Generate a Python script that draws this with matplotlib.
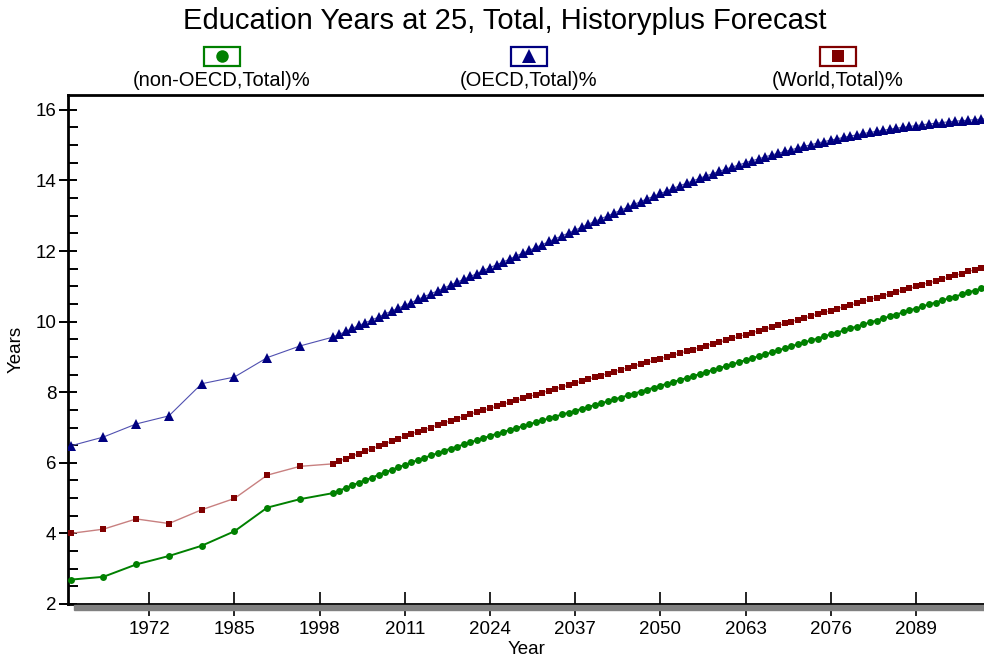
import numpy as np
import matplotlib
matplotlib.use("Agg")
import matplotlib.pyplot as plt
from matplotlib.patches import Rectangle

plt.rcParams['font.family'] = ['Liberation Sans', 'DejaVu Sans']

# history every 5 years, forecast every year
hist_years = [1960, 1965, 1970, 1975, 1980, 1985, 1990, 1995, 2000]
fc_years = list(range(2001, 2101))

oecd_hist = [6.48, 6.73, 7.10, 7.33, 8.24, 8.43, 8.98, 9.31, 9.56]
world_hist = [4.00, 4.12, 4.41, 4.28, 4.67, 4.99, 5.65, 5.90, 5.97]
nonoecd_hist = [2.69, 2.77, 3.12, 3.36, 3.65, 4.06, 4.73, 4.97, 5.14]

oecd_fc = [
    9.64, 9.72, 9.81, 9.89, 9.97, 10.05, 10.13, 10.22, 10.30, 10.38,
    10.46, 10.54, 10.63, 10.71, 10.79, 10.87, 10.95, 11.04, 11.12, 11.20,
    11.28, 11.36, 11.45, 11.53, 11.61, 11.69, 11.77, 11.86, 11.94, 12.02,
    12.10, 12.18, 12.27, 12.35, 12.43, 12.51, 12.59, 12.68, 12.76, 12.84,
    12.92, 13.00, 13.08, 13.16, 13.24, 13.32, 13.40, 13.48, 13.55, 13.63,
    13.70, 13.78, 13.85, 13.92, 13.99, 14.06, 14.13, 14.19, 14.26, 14.32,
    14.38, 14.44, 14.50, 14.56, 14.61, 14.67, 14.72, 14.77, 14.82, 14.87,
    14.92, 14.97, 15.01, 15.06, 15.10, 15.14, 15.18, 15.22, 15.26, 15.29,
    15.33, 15.36, 15.39, 15.42, 15.45, 15.48, 15.50, 15.53, 15.55, 15.58,
    15.60, 15.62, 15.64, 15.66, 15.68, 15.69, 15.71, 15.72, 15.74, 15.75,
]
world_fc = [
    6.05, 6.12, 6.19, 6.26, 6.33, 6.40, 6.47, 6.54, 6.61, 6.68,
    6.75, 6.82, 6.88, 6.94, 7.00, 7.07, 7.13, 7.19, 7.25, 7.31,
    7.38, 7.44, 7.49, 7.55, 7.60, 7.66, 7.72, 7.77, 7.83, 7.88,
    7.93, 7.99, 8.04, 8.10, 8.15, 8.20, 8.26, 8.31, 8.37, 8.42,
    8.47, 8.53, 8.58, 8.64, 8.69, 8.74, 8.80, 8.85, 8.90, 8.95,
    9.00, 9.05, 9.11, 9.16, 9.21, 9.26, 9.32, 9.37, 9.42, 9.47,
    9.53, 9.58, 9.63, 9.68, 9.74, 9.79, 9.84, 9.89, 9.95, 10.00,
    10.05, 10.10, 10.16, 10.21, 10.26, 10.31, 10.37, 10.42, 10.47, 10.52,
    10.58, 10.63, 10.68, 10.73, 10.79, 10.84, 10.89, 10.94, 11.00, 11.05,
    11.10, 11.15, 11.21, 11.26, 11.31, 11.36, 11.42, 11.47, 11.52, 11.58,
]
nonoecd_fc = [
    5.21, 5.29, 5.36, 5.44, 5.51, 5.58, 5.66, 5.73, 5.80, 5.87,
    5.94, 6.01, 6.08, 6.14, 6.21, 6.27, 6.34, 6.40, 6.46, 6.52,
    6.58, 6.64, 6.70, 6.76, 6.82, 6.87, 6.93, 6.98, 7.04, 7.09,
    7.15, 7.20, 7.26, 7.31, 7.37, 7.42, 7.47, 7.53, 7.58, 7.64,
    7.69, 7.74, 7.80, 7.85, 7.91, 7.96, 8.02, 8.07, 8.13, 8.18,
    8.24, 8.29, 8.35, 8.40, 8.46, 8.51, 8.57, 8.63, 8.68, 8.74,
    8.79, 8.85, 8.91, 8.96, 9.02, 9.07, 9.13, 9.19, 9.24, 9.30,
    9.36, 9.41, 9.47, 9.52, 9.58, 9.64, 9.69, 9.75, 9.81, 9.86,
    9.92, 9.98, 10.03, 10.09, 10.15, 10.20, 10.26, 10.32, 10.37, 10.43,
    10.49, 10.54, 10.60, 10.66, 10.71, 10.77, 10.83, 10.88, 10.94, 11.00,
]

series = [
    ("(non-OECD,Total)%", nonoecd_hist + nonoecd_fc, "#008000", "#008000", "o", 5.0, 1.4),
    ("(World,Total)%", world_hist + world_fc, "#800000", "#c88080", "s", 5.0, 1.0),
    ("(OECD,Total)%", oecd_hist + oecd_fc, "#000080", "#5050b0", "^", 7.5, 0.8),
]
years = hist_years + fc_years

fig = plt.figure(figsize=(9.84, 6.64), dpi=100)
ax = fig.add_axes([68 / 984, 60 / 664, 1 - 68 / 984 + 0.002, 509 / 664])

for name, vals, mcol, lcol, mk, ms, lw in series:
    ax.plot(years, vals, color=lcol, linewidth=lw, zorder=2)
    ax.plot(years, vals, linestyle="none", marker=mk, markersize=ms,
            color=mcol, markeredgewidth=0, zorder=3)

ax.set_xlim(1959.6, 2099.7)
ax.set_ylim(2, 16.42)
ax.set_xticks(list(range(1972, 2100, 13)))
ax.set_yticks(list(range(2, 17, 2)))
ax.set_yticks(np.arange(2, 16.5, 0.5), minor=True)
ax.tick_params(axis="x", which="major", direction="inout", length=17, width=1.2,
               labelsize=13.5, pad=4)
ax.tick_params(axis="y", which="major", direction="inout", length=13, width=1.4,
               labelsize=13.5, pad=2)
ax.tick_params(axis="y", which="minor", direction="in", length=7, width=1.4)
ax.tick_params(axis="x", which="minor", length=0)

for side in ["left", "top", "bottom"]:
    ax.spines[side].set_linewidth(2)
ax.spines["right"].set_visible(False)

ax.set_xlabel("Year", fontsize=13.5, labelpad=2)
ax.set_ylabel("Years", fontsize=13.5, labelpad=8)

# grey shadow under the x axis
fig.patches.append(Rectangle((74 / 984, (664 - 610) / 664), 1, 5 / 664,
                             transform=fig.transFigure, color="#808080", zorder=0))

fig.text(0.513, 0.968, "Education Years at 25, Total, Historyplus Forecast",
         ha="center", va="center", fontsize=21)

# legend: boxed marker above each label
leg_x = [222, 529, 838]
leg_items = [series[0], series[2], series[1]]
for cx, (name, vals, mcol, lcol, mk, ms, lw) in zip(leg_x, leg_items):
    fig.patches.append(Rectangle(((cx - 18) / 984, (664 - 66) / 664), 36 / 984, 19 / 664,
                                 transform=fig.transFigure, facecolor="white",
                                 edgecolor=mcol, linewidth=1.6))
    fig.lines.append(plt.Line2D([cx / 984], [(664 - 56) / 664], transform=fig.transFigure,
                                marker=mk, markersize=ms + 4 if mk != "^" else ms + 3,
                                color=mcol, markeredgewidth=0, linestyle="none"))
    fig.text(cx / 984, (664 - 80) / 664, name, ha="center", va="center", fontsize=14.5)

fig.savefig("out.png", dpi=100)
